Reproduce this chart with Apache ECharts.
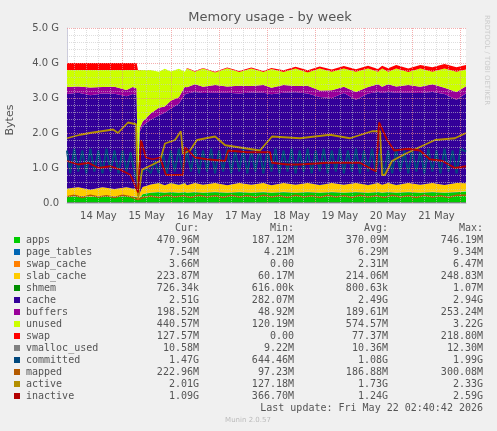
<!DOCTYPE html>
<html><head><meta charset="utf-8">
<script src="https://cdn.jsdelivr.net/npm/echarts@6/dist/echarts.min.js"></script>
<style>html,body{margin:0;padding:0;background:#f0f0f0}#c{width:497px;height:431px}</style>
</head><body><div id="c"></div>
<script>
// hours since 13 May 2026 00:00
const T = [20.4,26,32,38,44,50,53,55,55.7,56.5,58,62,66,69,72,76,79,80,84,88,94,100,106,112,118,122,128,134,140,146,152,158,164,170,175,177,180,184,190,196,202,208,214,218.7];
const apps = [0.18,0.2,0.17,0.2,0.18,0.2,0.18,0.17,0.08,0.15,0.25,0.29,0.31,0.29,0.31,0.29,0.31,0.29,0.31,0.29,0.31,0.29,0.31,0.29,0.31,0.29,0.31,0.29,0.31,0.29,0.31,0.29,0.31,0.29,0.31,0.29,0.31,0.29,0.31,0.29,0.31,0.29,0.31,0.33];
const page_tables = [0.007,0.007,0.007,0.007,0.007,0.007,0.007,0.007,0.005,0.006,0.006,0.007,0.007,0.007,0.007,0.007,0.007,0.007,0.007,0.007,0.007,0.007,0.007,0.007,0.007,0.007,0.007,0.007,0.007,0.007,0.007,0.007,0.007,0.007,0.007,0.007,0.007,0.007,0.007,0.007,0.007,0.007,0.007,0.008];
const swap_cache = [0.003,0.003,0.003,0.003,0.003,0.003,0.003,0.003,0,0,0,0,0,0,0,0,0,0.002,0.002,0.002,0.002,0.002,0.002,0.002,0.002,0.002,0.003,0.003,0.003,0.003,0.003,0.003,0.003,0.003,0.003,0.003,0.003,0.003,0.003,0.003,0.004,0.004,0.004,0.004];
const slab_cache = [0.22,0.24,0.2,0.24,0.21,0.24,0.22,0.22,0.06,0.12,0.2,0.23,0.25,0.21,0.25,0.22,0.25,0.21,0.25,0.22,0.25,0.21,0.25,0.22,0.25,0.21,0.25,0.22,0.25,0.21,0.25,0.22,0.25,0.21,0.25,0.22,0.25,0.21,0.25,0.22,0.25,0.21,0.25,0.22];
const shmem = [0.001,0.001,0.001,0.001,0.001,0.001,0.001,0.001,0.001,0.001,0.001,0.001,0.001,0.001,0.001,0.001,0.001,0.001,0.001,0.001,0.001,0.001,0.001,0.001,0.001,0.001,0.001,0.001,0.001,0.001,0.001,0.001,0.001,0.001,0.001,0.001,0.001,0.001,0.001,0.001,0.001,0.001,0.001,0.001];
const cache = [2.7,2.7,2.7,2.68,2.72,2.6,2.7,2.68,0.3,1.75,1.75,1.85,1.93,2.07,2.13,2.32,2.53,2.62,2.6,2.62,2.58,2.64,2.56,2.64,2.58,2.6,2.58,2.64,2.56,2.52,2.43,2.62,2.38,2.62,2.6,2.62,2.6,2.64,2.58,2.62,2.6,2.6,2.38,2.57];
const buffers = [0.2,0.18,0.22,0.18,0.2,0.18,0.2,0.2,0.04,0.1,0.12,0.18,0.22,0.18,0.22,0.18,0.22,0.18,0.22,0.18,0.22,0.18,0.22,0.18,0.22,0.18,0.22,0.18,0.22,0.18,0.22,0.18,0.22,0.18,0.22,0.18,0.22,0.18,0.22,0.18,0.22,0.18,0.22,0.2];
const unused = [0.49,0.47,0.5,0.49,0.48,0.57,0.49,0.52,3.31,1.67,1.47,1.24,1.03,1.08,0.84,0.82,0.43,0.53,0.36,0.52,0.36,0.52,0.39,0.5,0.37,0.54,0.37,0.5,0.38,0.63,0.53,0.52,0.58,0.53,0.36,0.52,0.36,0.51,0.37,0.52,0.36,0.55,0.58,0.48];
const swap = [0.2,0.2,0.2,0.2,0.2,0.2,0.2,0.2,0,0,0,0,0,0,0,0,0,0.02,0.02,0.02,0.02,0.02,0.03,0.03,0.03,0.03,0.05,0.05,0.06,0.06,0.06,0.07,0.07,0.08,0.08,0.08,0.1,0.1,0.1,0.1,0.13,0.13,0.13,0.13];

const vmallocT = [20.4,218.7];
const vmalloc = [0.01,0.01];
const committedT = [20.4,22,24,26,28,30,32,34,36,38,40,42,44,46,48,50,52,54,55.7,58,60,62,64,66,68,70,72,74,76,78,80,82,84,86,88,90,92,94,96,98,100,102,104,106,108,110,112,114,116,118,120,122,124,126,128,130,132,134,136,138,140,142,144,146,148,150,152,154,156,158,160,162,164,166,168,170,172,174,176,178,180,182,184,186,188,190,192,194,196,198,200,202,204,206,208,210,212,214,216,218.7];
const committed = [1.5,0.85,1.55,0.9,1.5,0.85,1.55,0.9,1.5,0.85,1.55,0.9,1.5,0.85,1.5,0.9,1.45,0.85,0.6,0.9,1.0,0.85,1.2,0.85,1.45,0.85,1.5,0.9,1.55,0.85,1.5,0.9,1.55,0.85,1.5,0.9,1.55,0.85,1.5,0.9,1.55,0.85,1.5,0.9,1.55,0.85,1.5,0.9,1.55,0.85,1.5,0.9,1.55,0.85,1.5,0.9,1.55,0.85,1.5,0.9,1.55,0.85,1.5,0.9,1.55,0.85,1.5,0.9,1.55,0.85,1.5,0.9,1.55,0.85,1.5,0.9,1.55,0.85,1.5,0.8,1.5,0.85,1.55,0.9,1.5,0.85,1.55,0.9,1.5,0.85,1.55,0.9,1.5,0.85,1.55,0.9,1.5,0.85,1.55,1.47];
const mappedT = [20.4,24,28,32,36,40,44,48,52,55.7,58,62,66,70,74,78,82,86,90,94,98,102,106,110,114,118,122,126,130,134,138,142,146,150,154,158,162,166,170,174,178,182,186,190,194,198,202,206,210,214,218.7];
const mapped = [0.18,0.22,0.16,0.22,0.17,0.21,0.16,0.22,0.18,0.1,0.15,0.2,0.16,0.22,0.17,0.21,0.16,0.22,0.17,0.21,0.16,0.22,0.17,0.21,0.16,0.22,0.17,0.21,0.16,0.22,0.17,0.21,0.16,0.22,0.17,0.21,0.16,0.22,0.17,0.21,0.16,0.22,0.17,0.21,0.16,0.22,0.17,0.21,0.16,0.22,0.22];
const activeT = [20.4,26.9,31.8,43.3,45.7,50.7,54.7,55.7,57.7,66.6,69.1,74.1,77,78,81.5,85,94,99,116.3,122.3,136.2,151.1,161,172,176,177,178.4,181.9,188.4,195.8,203.3,213.2,218.7];
const active = [1.85,1.95,2.0,2.1,2.0,2.3,2.25,0.1,0.95,1.2,1.7,1.8,2.05,1.4,1.5,1.8,1.9,1.65,1.5,1.9,1.85,1.95,1.85,2.05,2.05,0.8,0.8,1.2,1.4,1.6,1.8,1.85,2.0];
const inactiveT = [20.4,26,31,36,42,47,52,55.7,57.2,59.6,63,66.6,69.6,78,79,84,90,99,100.5,110,121.3,122.3,130,136.2,150,166,174,175.5,179.5,183,190,195.8,200.7,207,213.2,218.7];
const inactive = [1.2,1.1,1.15,1.0,1.05,0.95,0.8,0.3,1.8,1.3,1.25,1.3,0.8,0.8,1.6,1.3,1.25,1.2,1.5,1.45,1.45,1.15,1.1,1.1,1.15,1.15,0.9,2.3,1.8,1.5,1.55,1.5,1.25,1.2,1.0,1.05];

const dayLabels = [36,60,84,108,132,156,180,204];
const dayNames = ['14 May','15 May','16 May','17 May','18 May','19 May','20 May','21 May'];
const midnights = [48,72,96,120,144,168,192,216];
const sixHours = [24,30,36,42,54,60,66,78,84,90,102,108,114,126,132,138,150,156,162,174,180,186,198,204,210];
const yMinor = [0.2,0.4,0.6,0.8,1.2,1.4,1.6,1.8,2.2,2.4,2.6,2.8,3.2,3.4,3.6,3.8,4.2,4.4,4.6,4.8];
const yMajor = [1,2,3,4,5];
const names = ['apps','page_tables','swap_cache','slab_cache','shmem','cache','buffers','unused','swap','vmalloc_used','committed','mapped','active','inactive'];
const colors = ['#00CC00','#0066B3','#FF8000','#FFCC00','#008F00','#330099','#990099','#CCFF00','#FF0000','#808080','#00487D','#B35A00','#B38F00','#B30000'];
const cur = ['470.96M','7.54M','3.66M','223.87M','726.34k','2.51G','198.52M','440.57M','127.57M','10.58M','1.47G','222.96M','2.01G','1.09G'];
const mins = ['187.12M','4.21M','0.00','60.17M','616.00k','282.07M','48.92M','120.19M','0.00','9.22M','644.46M','97.23M','127.18M','366.70M'];
const avgs = ['370.09M','6.29M','2.31M','214.06M','800.63k','2.49G','189.61M','574.57M','77.37M','10.36M','1.08G','186.88M','1.73G','1.24G'];
const maxs = ['746.19M','9.34M','6.47M','248.83M','1.07M','2.94G','253.24M','3.22G','218.80M','12.30M','1.99G','300.08M','2.33G','2.59G'];

const T0 = Date.UTC(2026,4,13);
const ts = h => T0 + h*3600000;
const stacked = [apps,page_tables,swap_cache,slab_cache,shmem,cache,buffers,unused,swap];
const lines = [[vmallocT,vmalloc,1],[committedT,committed,2],[mappedT,mapped,1.5],[activeT,active,1.8],[inactiveT,inactive,1.8]];
const series = [];
stacked.forEach((arr,i)=>series.push({name:names[i],type:'line',stack:'m',symbol:'none',z:2,
  data:T.map((t,j)=>[ts(t),arr[j]]),lineStyle:{width:0},areaStyle:{color:colors[i],opacity:1},itemStyle:{color:colors[i]}}));
series.push({type:'line',data:[],z:3,silent:true,markLine:{symbol:'none',silent:true,label:{show:false},animation:false,
  data:sixHours.map(v=>({xAxis:ts(v),lineStyle:{color:'rgba(200,200,200,0.6)',type:'dotted',width:1}}))
   .concat(midnights.map(v=>({xAxis:ts(v),lineStyle:{color:'rgba(240,140,140,0.7)',type:'dotted',width:1}})))
   .concat(yMinor.map(v=>({yAxis:v,lineStyle:{color:'rgba(200,200,200,0.6)',type:'dotted',width:1}})))
   .concat(yMajor.map(v=>({yAxis:v,lineStyle:{color:'rgba(240,140,140,0.7)',type:'dotted',width:1}})))}});
lines.forEach((l,k)=>{const i=9+k;series.push({name:names[i],type:'line',symbol:'none',z:4,
  data:l[0].map((t,j)=>[ts(t),l[1][j]]),lineStyle:{width:l[2],color:colors[i]},itemStyle:{color:colors[i]}});});

const mono = 'DejaVu Sans Mono';
const g = [];
const fs = 10;
[['Cur:',199],['Min:',294],['Avg:',388],['Max:',483]].forEach(h=>g.push({type:'text',x:h[1],y:228,style:{text:h[0],font:fs+'px '+mono,fill:'#555',textAlign:'right',verticalAlign:'middle'}}));
names.forEach((n,i)=>{
  const y = 240 + i*12;
  g.push({type:'rect',shape:{x:14,y:y-3,width:6,height:6},style:{fill:colors[i]}});
  g.push({type:'text',x:26,y:y,style:{text:n,font:fs+'px '+mono,fill:'#555',verticalAlign:'middle'}});
  [[cur,199],[mins,294],[avgs,388],[maxs,483]].forEach(c=>g.push({type:'text',x:c[1],y:y,style:{text:c[0][i],font:fs+'px '+mono,fill:'#555',textAlign:'right',verticalAlign:'middle'}}));
});
g.push({type:'text',x:483,y:408,style:{text:'Last update: Fri May 22 02:40:42 2026',font:fs+'px '+mono,fill:'#555',textAlign:'right',verticalAlign:'middle'}});
g.push({type:'text',x:248,y:420,style:{text:'Munin 2.0.57',font:'7px DejaVu Sans',fill:'#bbb',textAlign:'center',verticalAlign:'middle'}});
g.push({type:'text',x:10,y:120,rotation:Math.PI/2,style:{text:'Bytes',font:'11px DejaVu Sans',fill:'#555',textAlign:'center',verticalAlign:'middle'}});
g.push({type:'text',x:487,y:60,rotation:-Math.PI/2,style:{text:'RRDTOOL / TOBI OETIKER',font:'7px DejaVu Sans',fill:'#ccc',textAlign:'center',verticalAlign:'middle'}});
g.push({type:'rect',z:-10,shape:{x:67,y:28,width:399,height:175},style:{fill:'#fff'}});

const chart = echarts.init(document.getElementById('c'),null,{renderer:'canvas'});
chart.setOption({
  backgroundColor:'#f0f0f0', animation:false,
  title:{text:'Memory usage - by week',left:265,top:6,textAlign:'center',textStyle:{fontFamily:'DejaVu Sans',fontSize:13,fontWeight:'normal',color:'#555'}},
  grid:{left:67,right:31,top:28,bottom:228,containLabel:false},
  xAxis:[
    {type:'time',min:ts(20.4),max:ts(218.7),axisLine:{show:true,lineStyle:{color:'#ccd'}},axisTick:{show:false},axisLabel:{show:false},splitLine:{show:false}},
    {type:'value',min:20.4,max:218.7,position:'bottom',axisLine:{show:false},axisTick:{show:false},splitLine:{show:false},
     axisLabel:{customValues:dayLabels,color:'#555',fontFamily:'DejaVu Sans',fontSize:10,margin:8,
       formatter:v=>{const i=dayLabels.indexOf(v);return i>=0?dayNames[i]:'';}}}
  ],
  yAxis:{type:'value',min:0,max:5,interval:1,axisLine:{show:true,lineStyle:{color:'#ccd'}},axisTick:{show:false},
    axisLabel:{color:'#555',fontFamily:'DejaVu Sans',fontSize:10,formatter:v=>v===0?'0.0':v.toFixed(1)+' G'},
    splitLine:{show:false}},
  series:series,
  graphic:g
});
</script></body></html>
